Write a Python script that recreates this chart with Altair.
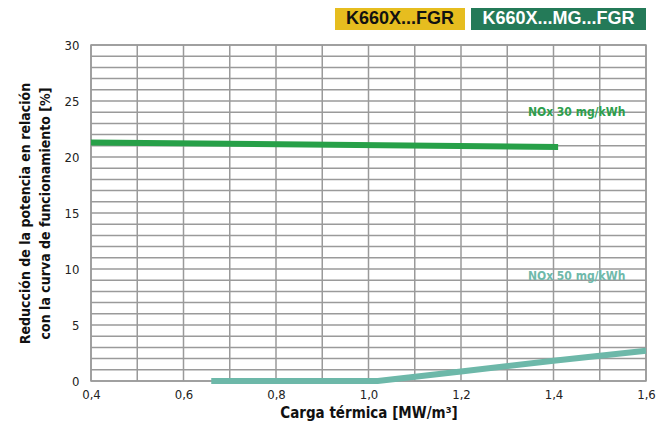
import altair as alt
import pandas as pd

# Series data
green_x = [0.4, 1.41]
green_y = [21.3, 20.9]
teal_x = [0.66, 1.02, 1.2, 1.4, 1.6]
teal_y = [0.0, 0.0, 0.85, 1.8, 2.7]

label_text = ["NOx 30 mg/kWh", "NOx 50 mg/kWh"]
label_x = [1.45, 1.45]
label_y = [24.0, 9.4]
label_color = ["#2e9e4c", "#6fb9aa"]

legend_labels = ["K660X...FGR", "K660X...MG...FGR"]

x_grid = [round(0.4 + 0.1 * i, 1) for i in range(13)]
y_grid = list(range(0, 31))
x_labels = [0.4, 0.6, 0.8, 1.0, 1.2, 1.4, 1.6]
y_labels = [0, 5, 10, 15, 20, 25, 30]

COND = "DejaVu Sans Condensed, Liberation Sans Narrow, sans-serif"
GRID = "#9a9a9a"

green_df = pd.DataFrame({"x": green_x, "y": green_y})
teal_df = pd.DataFrame({"x": teal_x, "y": teal_y})
lab_df = pd.DataFrame({"t": label_text, "x": label_x, "y": label_y, "c": label_color})
xg_df = pd.DataFrame({"x": x_grid})
yg_df = pd.DataFrame({"y": y_grid})
one = pd.DataFrame({"k": [0]})

xs = alt.Scale(domain=[0.4, 1.6], nice=False, zero=False)
ys = alt.Scale(domain=[0, 30], nice=False)

xax = alt.Axis(
    values=x_labels,
    labelExpr="replace(format(datum.value, '.1f'), '.', ',')",
    title="Carga térmica [MW/m³]",
    grid=False, labelOverlap=False,
)
yax = alt.Axis(
    values=y_labels,
    title=["Reducción de la potencia en relación", "con la curva de funcionamiento [%]"],
    grid=False, labelOverlap=False,
)

vgrid = alt.Chart(xg_df).mark_rule(color=GRID, strokeWidth=1.5).encode(
    x=alt.X("x:Q", scale=xs, axis=xax)
)
hgrid = alt.Chart(yg_df).mark_rule(color=GRID, strokeWidth=1.5).encode(
    y=alt.Y("y:Q", scale=ys, axis=yax)
)

green = alt.Chart(green_df).mark_line(color="#27a048", strokeWidth=6, strokeCap="butt", clip=False).encode(
    x=alt.X("x:Q", scale=xs, axis=xax),
    y=alt.Y("y:Q", scale=ys, axis=yax),
)
teal = alt.Chart(teal_df).mark_line(color="#6db8a9", strokeWidth=6, strokeCap="butt", clip=False).encode(
    x=alt.X("x:Q", scale=xs, axis=xax),
    y=alt.Y("y:Q", scale=ys, axis=yax),
)
labels = alt.Chart(lab_df).mark_text(fontWeight="bold", fontSize=12, font=COND, align="center", baseline="middle").encode(
    x=alt.X("x:Q", scale=xs, axis=xax),
    y=alt.Y("y:Q", scale=ys, axis=yax),
    text="t:N",
    color=alt.Color("c:N", scale=None),
)

LEGFONT = "Liberation Sans, Arial, sans-serif"
leg1_box = alt.Chart(one).mark_rect(color="#e6bd1f").encode(
    x=alt.value(244), x2=alt.value(374), y=alt.value(-39), y2=alt.value(-15)
)
leg1_txt = alt.Chart(one).mark_text(text=legend_labels[0], fontWeight="bold", fontSize=18, font=LEGFONT,
                                     color="#111", align="center", baseline="middle").encode(
    x=alt.value(309), y=alt.value(-26)
)
leg2_box = alt.Chart(one).mark_rect(color="#247a58").encode(
    x=alt.value(380), x2=alt.value(555), y=alt.value(-39), y2=alt.value(-15)
)
leg2_txt = alt.Chart(one).mark_text(text=legend_labels[1], fontWeight="bold", fontSize=18, font=LEGFONT,
                                     color="#ffffff", align="center", baseline="middle").encode(
    x=alt.value(467.5), y=alt.value(-26)
)

chart = alt.layer(vgrid, hgrid, green, teal, labels, leg1_box, leg1_txt, leg2_box, leg2_txt).properties(
    width=555, height=336,
    autosize=alt.AutoSizeParams(type="none"),
    padding={"left": 83, "top": 37, "right": 10, "bottom": 44},
).configure_view(
    stroke=GRID, strokeWidth=1.5
).configure_axis(
    domain=False, ticks=False,
    labelFont=COND, labelFontSize=13, labelColor="#222",
    titleFont=COND, titleFontWeight="bold", titleColor="#111",
).configure_axisX(
    labelPadding=7, titlePadding=4, labelFlush=False, titleFontSize=15,
).configure_axisY(
    labelPadding=12, titlePadding=12, labelFlush=False, titleFontSize=14, titleLineHeight=20,
)

chart.save("out.html", embed_options={"renderer": "svg", "actions": False})
